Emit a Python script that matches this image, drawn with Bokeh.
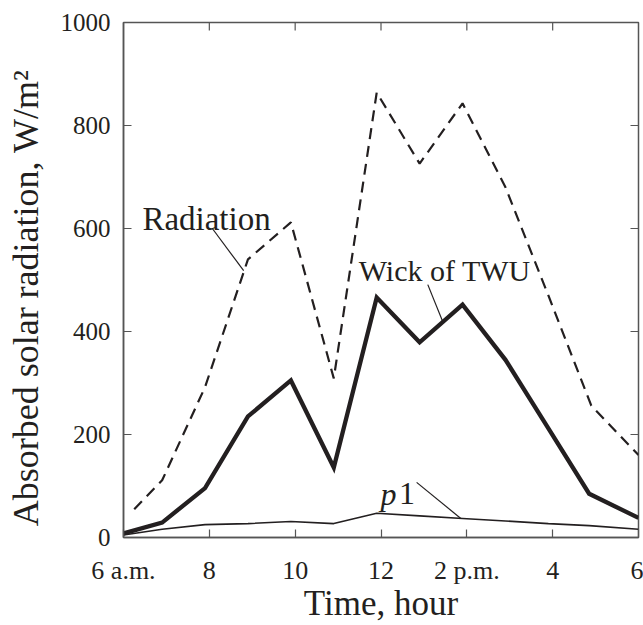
from bokeh.plotting import figure
from bokeh.models import FixedTicker, Range1d
from bokeh.core.properties import value
from bokeh.embed import file_html
from bokeh.resources import INLINE

# ---- data ----
hours_rad = [6.25, 6.9, 7.9, 8.9, 9.9, 10.9, 11.9, 12.9, 13.9, 14.9, 15.9, 16.9, 18.0]
radiation = [55, 111, 292, 540, 612, 309, 864, 726, 843, 680, 470, 256, 160]

hours = [6.0, 6.9, 7.9, 8.9, 9.9, 10.9, 11.9, 12.9, 13.9, 14.9, 15.9, 16.85, 18.0]
wick_twu = [8, 29, 96, 235, 305, 136, 466, 379, 452, 345, 212, 85, 38]
p1 = [5, 16, 25, 27, 31, 27, 47, 42, 37, 32, 27, 23, 16]

x_ticks = [6, 8, 10, 12, 14, 16, 18]
x_tick_labels = ["6 a.m.", "8", "10", "12", "2 p.m.", "4", "6"]
y_ticks = [0, 200, 400, 600, 800, 1000]

# annotation labels and leader lines (data units)
label_texts = ["Radiation", "Wick of TWU"]
label_x = [6.44, 11.48]
label_y = [619, 518]
label_sizes = ["33px", "30px"]
leader_x0 = [8.07, 13.09, 12.83]
leader_y0 = [600, 491, 107]
leader_x1 = [8.80, 13.44, 13.86]
leader_y1 = [518, 419, 37]
p1_label_x = [11.99, 12.42]
p1_label_y = [85, 85]

X0, X1, Y0, Y1 = 6, 18, 0, 1000
FONT = "Liberation Serif"
INK = "#231f20"
AXC = "#555555"

p = figure(width=643, height=625, x_range=Range1d(X0, X1), y_range=Range1d(Y0, Y1),
           output_backend="svg", toolbar_location=None,
           min_border_left=123, min_border_right=5, min_border_top=22, min_border_bottom=88)
p.grid.visible = False
p.outline_line_color = AXC
p.outline_line_width = 1.5
p.background_fill_color = "white"
p.border_fill_color = "white"

xa = p.xaxis[0]
xa.ticker = FixedTicker(ticks=x_ticks)
xa.major_label_overrides = {t: s for t, s in zip(x_ticks, x_tick_labels)}
ya = p.yaxis[0]
ya.ticker = FixedTicker(ticks=y_ticks)
for ax in (xa, ya):
    ax.major_tick_in = 8
    ax.major_tick_out = 0
    ax.minor_tick_in = 0
    ax.minor_tick_out = 0
    ax.axis_line_color = AXC
    ax.axis_line_width = 1.5
    ax.major_tick_line_color = AXC
    ax.major_tick_line_width = 1.2
    ax.major_label_text_font = FONT
    ax.major_label_text_color = INK
    ax.axis_label_text_font = FONT
    ax.axis_label_text_font_style = "normal"
    ax.axis_label_text_color = INK
xa.major_label_text_font_size = "26px"
ya.major_label_text_font_size = "25px"
xa.axis_label = "Time, hour"
xa.axis_label_text_font_size = "35px"
xa.major_label_standoff = 18
xa.axis_label_standoff = -4
ya.axis_label = "Absorbed solar radiation, W/m\u00b2\u00a0\u00a0\u00a0\u00a0"
ya.axis_label_text_font_size = "36px"
ya.major_label_standoff = 13
ya.axis_label_standoff = 12

# inward ticks on top and right frame edges
tick_dy = (Y1 - Y0) * 8 / 515
tick_dx = (X1 - X0) * 8 / 515
top_ticks = x_ticks[1:-1]
right_ticks = y_ticks[1:-1]
p.segment(x0=top_ticks, y0=[Y1] * len(top_ticks), x1=top_ticks, y1=[Y1 - tick_dy] * len(top_ticks),
          line_color=AXC, line_width=1.2)
p.segment(x0=[X1] * len(right_ticks), y0=right_ticks, x1=[X1 - tick_dx] * len(right_ticks), y1=right_ticks,
          line_color=AXC, line_width=1.2)

p.line(hours_rad, radiation, line_color=INK, line_width=2.2, line_dash="11 7")
p.line(hours, wick_twu, line_color=INK, line_width=4.3, line_join="miter")
p.line(hours, p1, line_color=INK, line_width=1.6)

p.segment(leader_x0, leader_y0, leader_x1, leader_y1, line_color=INK, line_width=1.2)

for t, x, y, s in zip(label_texts, label_x, label_y, label_sizes):
    p.text(x=[x], y=[y], text=[t], text_font=value(FONT), text_font_size=s,
           text_color=INK, text_baseline="alphabetic", text_align="left")
p.text(x=[p1_label_x[0]], y=[p1_label_y[0]], text=["p"], text_font=value(FONT),
       text_font_size="32px", text_font_style="italic", text_color=INK,
       text_baseline="alphabetic", text_align="left")
p.text(x=[p1_label_x[1]], y=[p1_label_y[1]], text=["1"], text_font=value(FONT),
       text_font_size="32px", text_color=INK, text_baseline="alphabetic", text_align="left")

open("out.html", "w").write(file_html(p, INLINE))
